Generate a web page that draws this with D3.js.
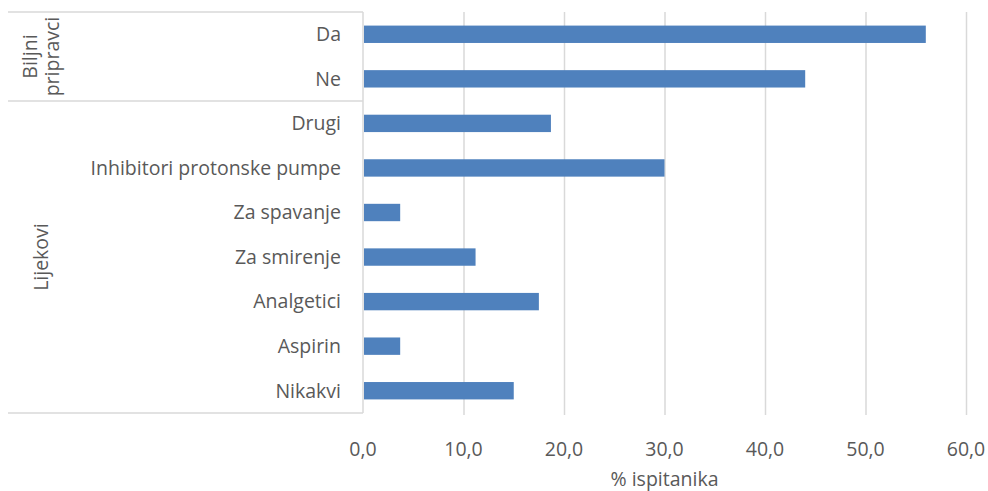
<!DOCTYPE html>
<html>
<head>
<meta charset="utf-8">
<script src="https://cdn.jsdelivr.net/npm/d3@7"></script>
<style>
	html, body { margin: 0; padding: 0; background: #fff; }
	svg { display: block; }
</style>
</head>
<body>
<div id="chart"></div>
<script>
//data
const groups = ['Biljni pripravci', 'Lijekovi'];
const categories = [
	'Da', 'Ne',
	'Drugi', 'Inhibitori protonske pumpe', 'Za spavanje', 'Za smirenje',
	'Analgetici', 'Aspirin', 'Nikakvi',
];
const categoryGroup = [0, 0, 1, 1, 1, 1, 1, 1, 1];
const values = [56.0, 44.0, 18.7, 30.0, 3.7, 11.2, 17.5, 3.7, 15.0];
const xTicks = [0, 10, 20, 30, 40, 50, 60];
const xTitle = '% ispitanika';

render();

function render() {
	let props = {
		width: 988,
		height: 491,
		left: 363,
		right: 966,
		top: 12,
		bottom: 413,
		groupLeft: 8,
		barColor: '#4f81bd',
		gridColor: '#d9d9d9',
		fontColor: '#595959',
		font: 'Open Sans, sans-serif',
		fontSize: 19.5,
	};
	createVisualization(d3.select('#chart'), props);
}

function createVisualization(container, props) {
	let { width, height, left, right, top, bottom, groupLeft,
		barColor, gridColor, fontColor, font, fontSize } = props;

	let svg = container.append('svg')
		.attr('width', width)
		.attr('height', height)
		.attr('font-family', font)
		.attr('fill', fontColor);

	let x = d3.scaleLinear().domain([0, 60]).range([left, right]);
	let y = d3.scaleBand().domain(categories).range([top, bottom]).paddingInner(0.61).paddingOuter(0.305);

	//gridlines
	svg.append('g')
		.selectAll('line')
		.data(xTicks.slice(1))
		.join('line')
		.attr('x1', d => x(d) + 0.5)
		.attr('x2', d => x(d) + 0.5)
		.attr('y1', top)
		.attr('y2', bottom + 2)
		.attr('stroke', gridColor)
		.attr('stroke-width', 1.5);

	//bars
	svg.append('g')
		.selectAll('rect')
		.data(values)
		.join('rect')
		.attr('x', x(0) + 1)
		.attr('y', (d, i) => y(categories[i]))
		.attr('width', d => x(d) - x(0) - 1)
		.attr('height', y.bandwidth())
		.attr('fill', barColor);

	//category axis with group separators
	let axis = svg.append('g').attr('stroke', gridColor).attr('stroke-width', 1.5);
	axis.append('line')
		.attr('x1', left).attr('x2', left)
		.attr('y1', top).attr('y2', bottom);

	let step = y.step();
	let groupBounds = groups.map((g, gi) => {
		let idx = categories.map((c, i) => i).filter(i => categoryGroup[i] === gi);
		let y0 = top + step * idx[0];
		let y1 = top + step * (idx[idx.length - 1] + 1);
		return { name: g, y0: y0, y1: y1 };
	});
	let sepY = [top].concat(groupBounds.map(d => d.y1));
	axis.selectAll('.sep')
		.data(sepY)
		.join('line')
		.attr('class', 'sep')
		.attr('x1', groupLeft).attr('x2', left)
		.attr('y1', d => d).attr('y2', d => d);

	//category labels
	svg.append('g')
		.selectAll('text')
		.data(categories)
		.join('text')
		.attr('x', left - 22)
		.attr('y', d => y(d) + y.bandwidth() / 2)
		.attr('dy', '0.35em')
		.attr('text-anchor', 'end')
		.attr('font-size', fontSize)
		.text(d => d);

	//group labels (rotated)
	let gl = svg.append('g')
		.selectAll('text')
		.data(groupBounds)
		.join('text')
		.attr('text-anchor', 'middle')
		.attr('font-size', fontSize)
		.attr('transform', d => translation(41, (d.y0 + d.y1) / 2) + ' rotate(-90)');
	gl.each(function (d) {
		let words = d.name.split(' ');
		let t = d3.select(this);
		let lh = 22;
		words.forEach((w, i) => {
			t.append('tspan')
				.attr('x', 0)
				.attr('y', (i - (words.length - 1) / 2) * lh)
				.attr('dy', '0.35em')
				.text(w);
		});
	});

	//value axis labels
	svg.append('g')
		.selectAll('text')
		.data(xTicks)
		.join('text')
		.attr('x', d => x(d))
		.attr('y', 456)
		.attr('text-anchor', 'middle')
		.attr('font-size', fontSize)
		.text(d => d3.format('.1f')(d).replace('.', ','));

	svg.append('text')
		.attr('x', (left + right) / 2)
		.attr('y', 486)
		.attr('text-anchor', 'middle')
		.attr('font-size', fontSize)
		.text(xTitle);
}

//utils
function translation(x, y) {
	return `translate(${x}, ${y})`;
}
</script>
</body>
</html>
